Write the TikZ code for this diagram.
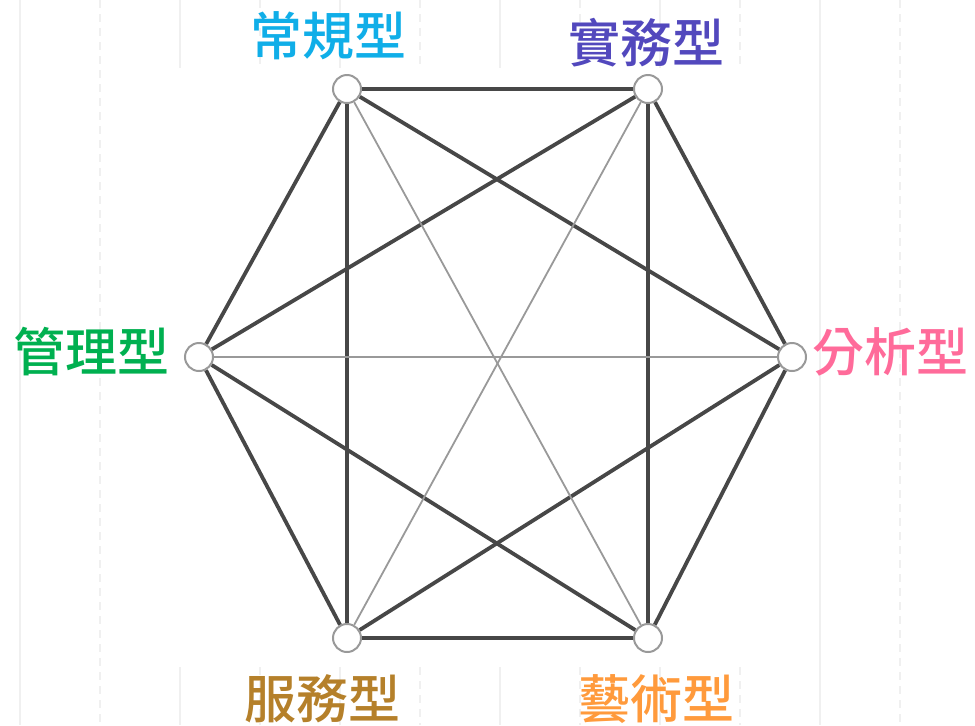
\documentclass[tikz,border=0pt]{standalone}
\usepackage{fontspec}
\newfontfamily\cjk{Noto Sans CJK TC}[BoldFont={Noto Sans CJK TC Medium}]
\definecolor{convcol}{RGB}{16,174,232}
\definecolor{realcol}{RGB}{82,72,189}
\definecolor{mgmtcol}{RGB}{0,176,80}
\definecolor{analcol}{RGB}{255,107,154}
\definecolor{servcol}{RGB}{181,128,42}
\definecolor{artcol}{RGB}{255,154,60}
\begin{document}
\begin{tikzpicture}[x=0.5pt,y=-0.5pt,
   dot/.style={circle,draw=black!40,line width=1pt,fill=white,
     minimum size=14pt,inner sep=0pt},
   strong/.style={draw=black!72,line width=1.9pt},
   weak/.style={draw=black!40,line width=0.9pt},
   typ/.style={font=\cjk\bfseries\fontsize{26}{26}\selectfont,inner sep=0pt},
   rule/.style={draw=black!6,line width=0.6pt}]
    \useasboundingbox (0,0) rectangle (975,725);
    % faint background rules
    \foreach \x in {20,820} \draw[rule] (\x,0)--(\x,725);
    \foreach \x in {100,900} \draw[rule,dash pattern=on 4pt off 3pt] (\x,0)--(\x,725);
    \foreach \x in {180,340,500,660} {
      \draw[rule] (\x,0)--(\x,68);
      \draw[rule] (\x,667)--(\x,725);
    }
    \foreach \x in {260,420,580,740} {
      \draw[rule,dash pattern=on 4pt off 3pt] (\x,0)--(\x,68);
      \draw[rule,dash pattern=on 4pt off 3pt] (\x,667)--(\x,725);
    }
    % the six points
    \node[dot] (conv) at (347,89) {};
    \node[dot] (real) at (648,89) {};
    \node[dot] (mgmt) at (199,357) {};
    \node[dot] (anal) at (792,357) {};
    \node[dot] (serv) at (347,638) {};
    \node[dot] (art) at (648,638) {};
    % links
    \foreach \a/\b in {conv/real,real/anal,anal/art,art/serv,serv/mgmt,mgmt/conv,
        conv/serv,real/art,conv/anal,real/mgmt,mgmt/art,anal/serv}
      \draw[strong] (\a)--(\b);
    \foreach \a/\b in {conv/art,real/serv,mgmt/anal}
      \draw[weak] (\a)--(\b);
    % labels
    \node[typ,text=convcol] (lconv) at (328,36) {常規型};
    \node[typ,text=realcol] (lreal) at (646,43) {實務型};
    \node[typ,text=mgmtcol] (lmgmt) at (91,352) {管理型};
    \node[typ,text=analcol] (lanal) at (890,352) {分析型};
    \node[typ,text=servcol] (lserv) at (322,699) {服務型};
    \node[typ,text=artcol] (lart) at (656,699) {藝術型};
\end{tikzpicture}
\end{document}
